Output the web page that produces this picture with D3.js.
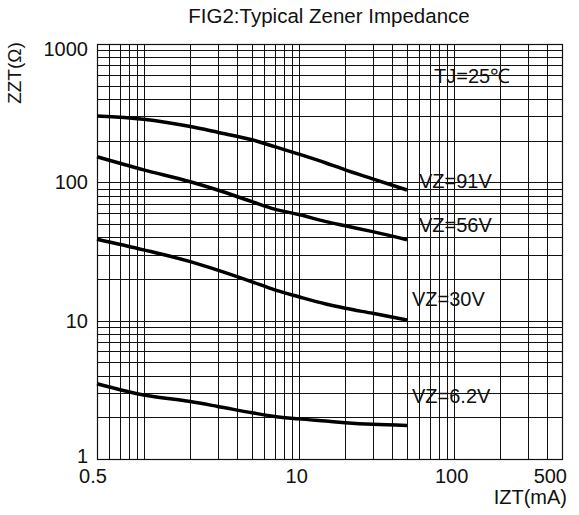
<!DOCTYPE html>
<html>
<head>
<meta charset="utf-8">
<script src="https://cdn.jsdelivr.net/npm/d3@7"></script>
<style>
  body { margin: 0; background: #fff; }
  text { font-family: Arial, "Liberation Sans", sans-serif; fill: #111; }
</style>
</head>
<body>
<script>
// currents in mA, impedance in ohm
const current = [0.5, 1, 2, 3, 5, 7, 10, 15, 20, 30, 50];
const vz91 = [302, 286, 253, 230, 203, 181, 160, 138, 123, 106, 88];
const vz56 = [153, 123, 101, 88, 72.5, 64, 58.5, 52, 48.5, 44, 38.5];
const vz30 = [38.8, 32.5, 26.7, 23.2, 19.1, 16.7, 14.9, 13.2, 12.3, 11.3, 10.1];
const vz62 = [3.5, 2.9, 2.6, 2.4, 2.16, 2.03, 1.95, 1.88, 1.83, 1.78, 1.75];
const seriesNames = ["VZ=91V", "VZ=56V", "VZ=30V", "VZ=6.2V"];
const xLabels = [0.5, 10, 100, 500];
const yLabels = [1, 10, 100, 1000];

const W = 579, H = 515;
const mLeft = 97, mRight = 562, mTop = 44, mBottom = 459;

const svg = d3.select("body").append("svg").attr("width", W).attr("height", H);

const x = d3.scaleLog().domain([0.5, 500]).range([mLeft, mRight]);
const y = d3.scaleLog().domain([1, 1000]).range([mBottom, mTop]);

// grid values
let xGrid = [0.5, 0.6, 0.7, 0.8, 0.9];
[1, 10, 100].forEach(d => { for (let k = 1; k <= 9; k++) xGrid.push(d * k); });
xGrid = xGrid.filter(v => v <= 500);
let yGrid = [];
[1, 10, 100].forEach(d => { for (let k = 1; k <= 9; k++) yGrid.push(d * k); });
yGrid.push(1000);

const g = svg.append("g");
g.selectAll(".vg").data(xGrid).enter().append("line")
  .attr("x1", d => Math.round(x(d)) + 0.5).attr("x2", d => Math.round(x(d)) + 0.5)
  .attr("y1", mTop).attr("y2", mBottom)
  .attr("stroke", "#111").attr("stroke-width", 1);
g.selectAll(".hg").data(yGrid).enter().append("line")
  .attr("y1", d => Math.round(y(d)) + 0.5).attr("y2", d => Math.round(y(d)) + 0.5)
  .attr("x1", mLeft).attr("x2", mRight)
  .attr("stroke", "#111").attr("stroke-width", 1);

svg.append("rect")
  .attr("x", mLeft + 0.5).attr("y", mTop + 0.5)
  .attr("width", mRight - mLeft).attr("height", mBottom - mTop)
  .attr("fill", "none").attr("stroke", "#111").attr("stroke-width", 1.2);

// curves
const line = d3.line()
  .x((d, i) => x(current[i]))
  .y(d => y(d))
  .curve(d3.curveMonotoneX);

[vz91, vz56, vz30, vz62].forEach(s => {
  svg.append("path").attr("d", line(s))
    .attr("fill", "none").attr("stroke", "#000").attr("stroke-width", 3.5)
    .attr("stroke-linecap", "butt");
});

// axis labels
svg.selectAll(".xl").data(xLabels).enter().append("text")
  .attr("x", d => d === 500 ? 567 : (d === 0.5 ? 93 : x(d) - 2))
  .attr("y", 483)
  .attr("text-anchor", d => d === 500 ? "end" : "middle")
  .attr("font-size", 20)
  .text(d => d);

svg.selectAll(".yl").data(yLabels).enter().append("text")
  .attr("x", 88)
  .attr("y", d => y(d) + (d === 1000 ? 12 : (d === 1 ? 4 : 7)))
  .attr("text-anchor", "end")
  .attr("font-size", 20)
  .text(d => d);

svg.append("text").attr("x", 567).attr("y", 504).attr("text-anchor", "end")
  .attr("font-size", 20).text("IZT(mA)");
svg.append("text").attr("transform", "translate(21,73) rotate(-90)")
  .attr("text-anchor", "middle").attr("font-size", 19).text("ZZT(Ω)");

svg.append("text").attr("x", 329).attr("y", 23).attr("text-anchor", "middle")
  .attr("font-size", 20.5).text("FIG2:Typical Zener Impedance");

svg.append("text").attr("x", 434).attr("y", 83).attr("font-size", 20).text("TJ=25℃");

const labelPos = [[419, 188], [419, 232], [412, 306], [412, 403]];
seriesNames.forEach((n, i) => {
  svg.append("text").attr("x", labelPos[i][0]).attr("y", labelPos[i][1])
    .attr("font-size", 20).text(n);
});
</script>
</body>
</html>
